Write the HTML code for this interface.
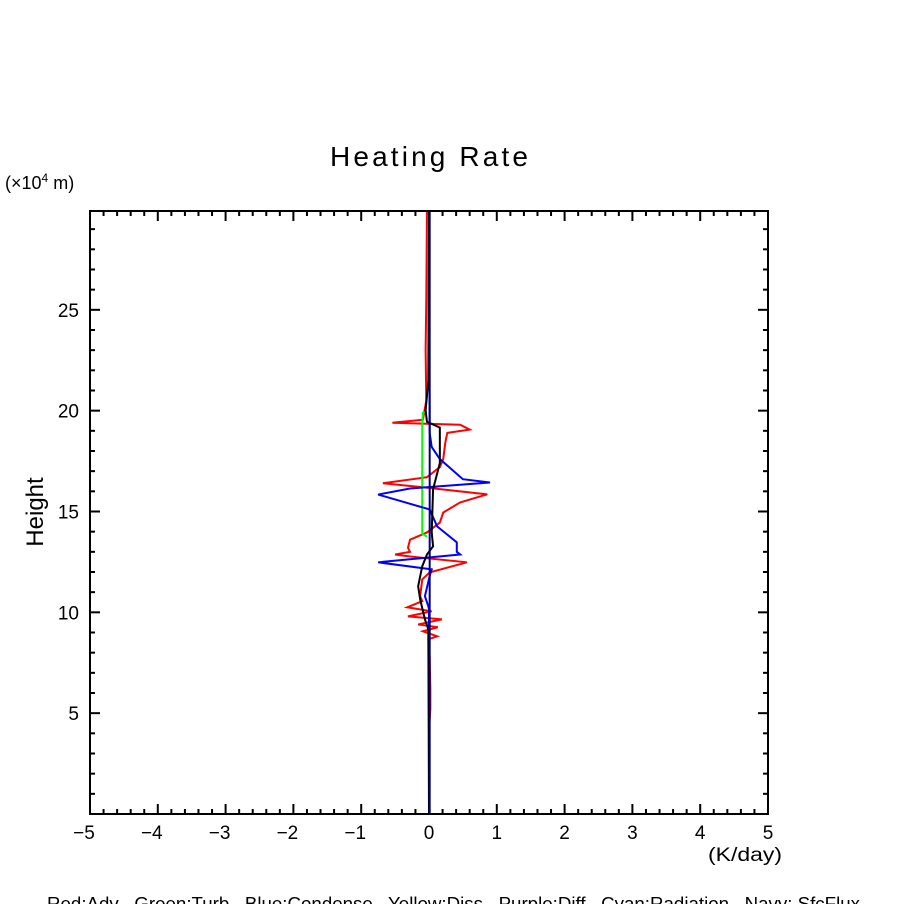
<!DOCTYPE html>
<html><head><meta charset="utf-8"><style>
body{margin:0;background:#fff;}
svg text{font-family:"Liberation Sans",sans-serif;fill:#000;white-space:pre;}
</style></head><body>
<svg id="chart" width="904" height="904" xmlns="http://www.w3.org/2000/svg">
<text x="330" y="166" font-size="28" textLength="198" lengthAdjust="spacing">Heating Rate</text>
<text x="5" y="189" font-size="18">(×10<tspan font-size="12" dy="-7">4</tspan><tspan dy="7"> m)</tspan></text>
<text x="0" y="0" font-size="24" text-anchor="middle" transform="translate(43,512) rotate(-90)">Height</text>
<text x="708" y="861" font-size="19" textLength="74" lengthAdjust="spacingAndGlyphs">(K/day)</text>
<text x="47" y="910" font-size="18" textLength="813" lengthAdjust="spacingAndGlyphs">Red:Adv   Green:Turb   Blue:Condense   Yellow:Diss   Purple:Diff   Cyan:Radiation   Navy: SfcFlux</text>
<g id="axes"></g>
<g id="series"></g>
<rect x="90" y="211" width="678" height="603" fill="none" stroke="#000" stroke-width="2"/>
</svg>
<script>
const xTicks=[-5,-4,-3,-2,-1,0,1,2,3,4,5];
const yTicks=[5,10,15,20,25];
const advH=[0,4.2,5.2,6.2,7.8,8.66,8.81,9.06,9.26,9.4,9.65,9.8,10.05,10.25,10.55,10.8,11.63,11.98,12.48,12.77,12.87,13.0,13.2,13.6,13.96,14.45,14.95,15.45,15.85,16.2,16.4,16.7,17.2,17.6,18.4,18.9,19.06,19.3,19.4,19.55,20.5,23.0,25.5,29.9];
const advX=[0,0,0.02,0.02,0.01,-0.01,0.12,-0.09,0.13,-0.16,0.19,-0.31,0.04,-0.32,-0.1,-0.13,-0.1,0.01,0.56,-0.28,-0.5,-0.28,-0.31,-0.28,-0.03,0.16,0.21,0.46,0.86,-0.09,-0.68,-0.03,0.16,0.21,0.24,0.27,0.6,0.46,-0.54,-0.09,-0.04,-0.05,-0.04,-0.03];
const turbH=[13.75,13.9,19.3,19.9,19.95];
const turbX=[-0.03,-0.1,-0.1,-0.09,-0.03];
const condH=[0,10.15,10.3,10.8,11.8,12.13,12.48,12.87,13.0,13.47,14.26,15.1,15.84,16.14,16.44,16.6,17.6,18.2,18.9,29.9];
const condX=[0,0,-0.01,-0.06,0.01,0.04,-0.75,0.46,0.41,0.41,0.12,0.01,-0.75,-0.28,0.9,0.5,0.16,0.04,0.01,0];
const totH=[0,9.16,9.65,10.64,11.29,12.28,12.87,13.27,13.96,16.1,17.4,19.16,19.45,20.0,21.5,29.9];
const totX=[0,-0.01,-0.06,-0.13,-0.16,-0.1,-0.03,0.06,0.04,0.06,0.16,0.16,-0.03,-0.05,-0.01,0];
const sfcH=[0,29.9];
const sfcX=[0.01,0.01];

const X0=90,X1=768,Y0=814,Y1=211,XMIN=-5,XMAX=5,YMIN=0,YMAX=29.9;
const sx=v=>X0+(v-XMIN)/(XMAX-XMIN)*(X1-X0);
const sy=v=>Y0-(v-YMIN)/(YMAX-YMIN)*(Y0-Y1);
const NS="http://www.w3.org/2000/svg";
const axes=document.getElementById('axes'),ser=document.getElementById('series');
function ln(g,x1,y1,x2,y2,w){const l=document.createElementNS(NS,'line');l.setAttribute('x1',x1);l.setAttribute('y1',y1);l.setAttribute('x2',x2);l.setAttribute('y2',y2);l.setAttribute('stroke','#000');l.setAttribute('stroke-width',w);g.appendChild(l);return l;}
for(let i=0;i<=50;i++){const v=XMIN+i*0.2;const x=sx(v);const major=i%5===0;const L=major?10:5;
 const a=ln(axes,x,Y0,x,Y0-L,2);
 const b=ln(axes,x,Y1,x,Y1+L,2);}
for(let v=1;v<YMAX;v++){const y=sy(v);const major=v%5===0;const L=major?10:5;
 const a=ln(axes,X0,y,X0+L,y,2);
 const b=ln(axes,X1,y,X1-L,y,2);}
xTicks.forEach(v=>{const t=document.createElementNS(NS,'text');t.setAttribute('x',sx(v)-(v<0?6:0));t.setAttribute('y',839);t.setAttribute('font-size','19');t.setAttribute('text-anchor','middle');t.textContent=(v<0?'\u2212'+(-v):String(v));
 
 
 axes.appendChild(t);});
yTicks.forEach(v=>{const t=document.createElementNS(NS,'text');t.setAttribute('x',79);t.setAttribute('y',sy(v)+7);t.setAttribute('font-size','19');t.setAttribute('text-anchor','end');t.textContent=String(v);
 
 
 axes.appendChild(t);});
function line(hs,xs,color,name){const p=document.createElementNS(NS,'polyline');p.setAttribute('points',hs.map((h,i)=>sx(xs[i])+','+sy(h)).join(' '));p.setAttribute('fill','none');p.setAttribute('stroke',color);p.setAttribute('stroke-width','2');
 
 
 ser.appendChild(p);}
line(advH,advX,'#ff0000','adv-line');
line(turbH,turbX,'#00ff00','turb-line');
line(condH,condX,'#0000ff','condense-line');
line(totH,totX,'#000000','total-line');
line(sfcH,sfcX,'#000080','sfcflux-line');
</script>
</body></html>
